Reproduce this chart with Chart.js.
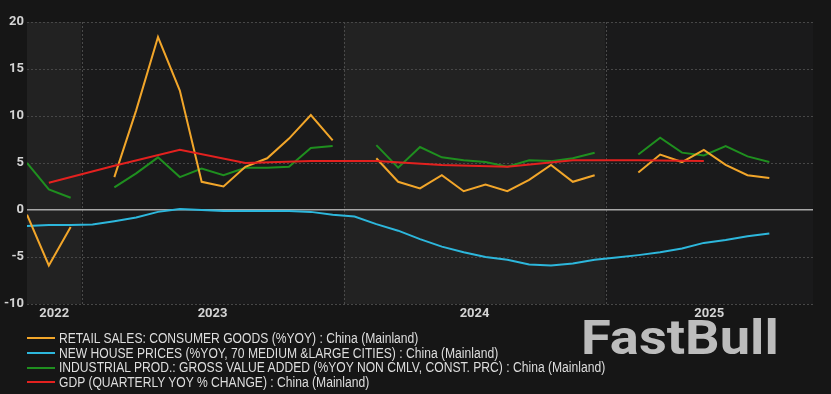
<!DOCTYPE html>
<html>
<head>
<meta charset="utf-8">
<script src="https://cdn.jsdelivr.net/npm/chart.js@4/dist/chart.umd.min.js"></script>
<style>
  html, body { margin: 0; padding: 0; background: #161616; }
  #wrap { position: relative; width: 831px; height: 394px; overflow: hidden; background: #161616; }
  #c { position: absolute; left: 0; top: 0; }
  #legend { position: absolute; left: 27px; top: 331px; font-family: "Liberation Sans", Arial, sans-serif; font-size: 14px; color: #dedede; }
  .row { height: 14.7px; line-height: 14.7px; white-space: nowrap; display: flex; align-items: center; }
  .sw { width: 28px; height: 2px; margin-right: 4px; flex: none; }
  .txt { display: inline-block; transform: scaleX(0.865); transform-origin: left center; }
  #mark { position: absolute; left: 581px; top: 314px; font-family: Roboto, "Open Sans", sans-serif; font-weight: 700; font-size: 48px; line-height: 48px; color: #bcbcbc; transform: scaleX(1.13); transform-origin: left top; }
</style>
</head>
<body>
<div id="wrap">
  <canvas id="c" width="831" height="330"></canvas>
  <div id="mark">FastBull</div>
  <div id="legend"></div>
</div>
<script>
// ---- data ----
const months = [
  '2022-10','2022-11','2022-12',
  '2023-01','2023-02','2023-03','2023-04','2023-05','2023-06','2023-07','2023-08','2023-09','2023-10','2023-11','2023-12',
  '2024-01','2024-02','2024-03','2024-04','2024-05','2024-06','2024-07','2024-08','2024-09','2024-10','2024-11','2024-12',
  '2025-01','2025-02','2025-03','2025-04','2025-05','2025-06','2025-07','2025-08'
];
const retailSales = [
  -0.5, -5.9, -1.8,
  null, 3.5, 10.6, 18.4, 12.7, 3.0, 2.5, 4.6, 5.5, 7.6, 10.1, 7.4,
  null, 5.5, 3.0, 2.3, 3.7, 2.0, 2.7, 2.0, 3.2, 4.8, 3.0, 3.7,
  null, 4.0, 5.9, 5.1, 6.4, 4.8, 3.7, 3.4
];
const housePrices = [
  -1.7, -1.6, -1.6,
  -1.55, -1.2, -0.8, -0.2, 0.1, 0.0, -0.1, -0.1, -0.1, -0.1, -0.2, -0.5,
  -0.7, -1.5, -2.2, -3.1, -3.9, -4.5, -5.0, -5.3, -5.8, -5.9, -5.7, -5.3,
  -5.05, -4.8, -4.5, -4.1, -3.5, -3.2, -2.8, -2.5
];
const industrialProd = [
  5.0, 2.2, 1.3,
  null, 2.4, 3.9, 5.6, 3.5, 4.4, 3.7, 4.5, 4.5, 4.6, 6.6, 6.8,
  null, 6.9, 4.5, 6.7, 5.6, 5.3, 5.1, 4.6, 5.3, 5.2, 5.5, 6.1,
  null, 5.9, 7.7, 6.1, 5.8, 6.8, 5.7, 5.1
];
const gdpMonths = ['2022-11','2023-02','2023-05','2023-08','2023-11','2024-02','2024-05','2024-08','2024-11','2025-02','2025-05'];
const gdp = [2.9, 4.7, 6.4, 5.0, 5.2, 5.2, 4.8, 4.6, 5.3, 5.3, 5.2];
const yearLabels = ['2022', '2023', '2024', '2025'];
const yTicks = [20, 15, 10, 5, 0, -5, -10];
const seriesNames = [
  'RETAIL SALES: CONSUMER GOODS (%YOY) : China (Mainland)',
  'NEW HOUSE PRICES (%YOY, 70 MEDIUM &LARGE CITIES) : China (Mainland)',
  'INDUSTRIAL PROD.: GROSS VALUE ADDED (%YOY NON CMLV, CONST. PRC) : China (Mainland)',
  'GDP (QUARTERLY YOY % CHANGE) : China (Mainland)'
];
const seriesColors = ['#f2a62a', '#2db7dc', '#1f8f1f', '#e3211f'];

// months -> axis value (months since Jan 2023, mid-month)
const BASE_YEAR = 2023;
function mVal(s) { const [y, m] = s.split('-').map(Number); return (y - BASE_YEAR) * 12 + (m - 1) + 0.5; }
const xMin = mVal('2022-10');
const xMax = mVal('2025-10');
function pts(ms, vals) { return ms.map((m, i) => ({ x: mVal(m), y: vals[i] })); }
const yearStarts = yearLabels.map(y => (Number(y) - BASE_YEAR) * 12);

const bandPlugin = {
  id: 'bands',
  beforeDraw(chart) {
    const { ctx, chartArea: a, scales: { x } } = chart;
    ctx.save();
    yearStarts.forEach((s, i) => {
      const l = x.getPixelForValue(Math.max(s, xMin));
      const r = x.getPixelForValue(Math.min(s + 12, xMax));
      ctx.fillStyle = i % 2 === 0 ? '#222222' : '#1a1a1b';
      ctx.fillRect(l, a.top, r - l, a.bottom - a.top);
    });
    ctx.strokeStyle = '#4a4a4a';
    ctx.lineWidth = 1;
    ctx.setLineDash([2, 2]);
    yearStarts.forEach(s => {
      if (s <= xMin || s >= xMax) return;
      const px = Math.round(x.getPixelForValue(s)) + 0.5;
      ctx.beginPath(); ctx.moveTo(px, a.top); ctx.lineTo(px, a.bottom); ctx.stroke();
    });
    ctx.restore();
  }
};

const dsBase = { borderWidth: 2, pointRadius: 0, tension: 0, spanGaps: false, fill: false };
const chart = new Chart(document.getElementById('c'), {
  type: 'line',
  data: {
    datasets: [
      { ...dsBase, label: seriesNames[0], data: pts(months, retailSales), borderColor: seriesColors[0], order: 1 },
      { ...dsBase, label: seriesNames[1], data: pts(months, housePrices), borderColor: seriesColors[1], order: 2 },
      { ...dsBase, label: seriesNames[2], data: pts(months, industrialProd), borderColor: seriesColors[2], order: 3 },
      { ...dsBase, label: seriesNames[3], data: pts(gdpMonths, gdp), borderColor: seriesColors[3], order: 0 }
    ]
  },
  options: {
    responsive: false,
    animation: false,
    devicePixelRatio: 1,
    layout: { padding: { top: 22, right: 18, left: 0, bottom: 0 } },
    plugins: { legend: { display: false }, tooltip: { enabled: false } },
    scales: {
      x: {
        type: 'linear', min: xMin, max: xMax,
        afterBuildTicks(scale) {
          scale.ticks = yearStarts.map(s => ({ value: (Math.max(s, xMin) + Math.min(s + 12, xMax)) / 2 }));
        },
        afterFit(scale) { scale.height = 26; },
        grid: { display: false, drawTicks: false },
        border: { display: false },
        ticks: {
          autoSkip: false, maxRotation: 0, padding: 2,
          color: '#d4d4d4', font: { family: 'Roboto, "Liberation Sans", sans-serif', size: 13, weight: 'bold' },
          callback: (v, i) => yearLabels[i]
        }
      },
      y: {
        min: -10, max: 20,
        afterBuildTicks(scale) { scale.ticks = yTicks.map(v => ({ value: v })); },
        afterFit(scale) { scale.width = 27; },
        grid: {
          drawTicks: false,
          color: ctx => ctx.tick && ctx.tick.value === 0 ? '#a8a8a8' : '#474747',
          lineWidth: ctx => ctx.tick && ctx.tick.value === 0 ? 1.5 : 1
        },
        border: { display: false, dash: ctx => ctx.tick && ctx.tick.value === 0 ? [] : [2, 2] },
        ticks: {
          padding: 3,
          color: '#d4d4d4', font: { family: 'Roboto, "Liberation Sans", sans-serif', size: 13, weight: 'bold' }
        }
      }
    }
  },
  plugins: [bandPlugin]
});

// HTML legend from datasets
const legend = document.getElementById('legend');
chart.data.datasets.forEach(ds => {
  const row = document.createElement('div');
  row.className = 'row';
  const sw = document.createElement('span');
  sw.className = 'sw'; sw.style.background = ds.borderColor;
  const t = document.createElement('span');
  t.className = 'txt'; t.textContent = ds.label;
  row.appendChild(sw); row.appendChild(t);
  legend.appendChild(row);
});
</script>
</body>
</html>
